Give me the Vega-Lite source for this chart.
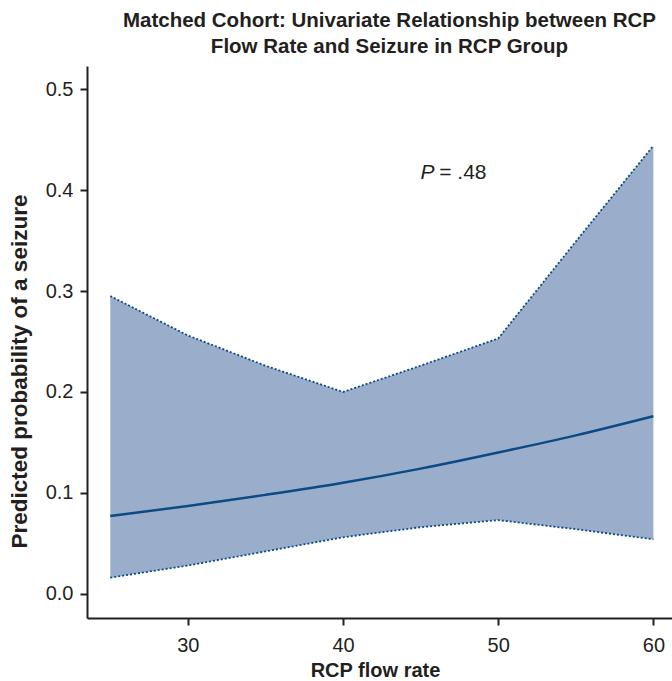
{
  "$schema": "https://vega.github.io/schema/vega-lite/v6.json",
  "autosize": "none",
  "width": 585,
  "height": 552,
  "padding": {"left": 87, "top": 66, "right": 0, "bottom": 63},
  "background": "white",
  "title": {
    "text": ["Matched Cohort: Univariate Relationship between RCP", "Flow Rate and Seizure in RCP Group"],
    "font": "Liberation Sans",
    "fontSize": 20.5,
    "fontWeight": "bold",
    "color": "#231f20",
    "anchor": "middle",
    "dx": 10,
    "offset": 9,
    "lineHeight": 26
  },
  "data": {
    "values": [
      {"x": 25, "fit": 0.077, "lo": 0.016, "hi": 0.295},
      {"x": 30, "fit": 0.087, "lo": 0.028, "hi": 0.256},
      {"x": 35, "fit": 0.098, "lo": 0.042, "hi": 0.226},
      {"x": 40, "fit": 0.110, "lo": 0.056, "hi": 0.200},
      {"x": 45, "fit": 0.124, "lo": 0.066, "hi": 0.226},
      {"x": 50, "fit": 0.140, "lo": 0.073, "hi": 0.253},
      {"x": 55, "fit": 0.157, "lo": 0.064, "hi": 0.349},
      {"x": 60, "fit": 0.176, "lo": 0.054, "hi": 0.444}
    ]
  },
  "config": {
    "view": {"stroke": null},
    "axis": {
      "grid": false,
      "domainColor": "#231f20",
      "domainWidth": 2,
      "tickColor": "#231f20",
      "tickWidth": 2,
      "tickSize": 7,
      "labelFont": "Liberation Sans",
      "labelFontSize": 20,
      "labelColor": "#231f20",
      "titleFont": "Liberation Sans",
      "titleFontSize": 20,
      "titleFontWeight": "bold",
      "titleColor": "#231f20"
    }
  },
  "layer": [
    {
      "mark": {"type": "area", "color": "#9aadcb", "opacity": 1},
      "encoding": {
        "x": {
          "field": "x", "type": "quantitative",
          "scale": {"domain": [23.5, 61.2], "nice": false, "zero": false},
          "axis": {"values": [30, 40, 50, 60], "title": "RCP flow rate", "labelPadding": 10, "titleX": 288, "titleY": 58, "titleAlign": "center", "titleBaseline": "alphabetic"}
        },
        "y": {
          "field": "lo", "type": "quantitative",
          "scale": {"domain": [-0.024, 0.523], "nice": false, "zero": false},
          "axis": {"values": [0, 0.1, 0.2, 0.3, 0.4, 0.5], "format": ".1f", "title": "Predicted probability of a seizure", "labelPadding": 7, "titleFontSize": 22.5, "titleX": -68, "titleY": 305, "titleAlign": "center", "titleBaseline": "middle", "titleAngle": -90}
        },
        "y2": {"field": "hi"}
      }
    },
    {
      "mark": {"type": "line", "color": "#0b4a84", "strokeWidth": 1.8, "strokeDash": [2, 2]},
      "encoding": {
        "x": {"field": "x", "type": "quantitative"},
        "y": {"field": "hi", "type": "quantitative"}
      }
    },
    {
      "mark": {"type": "line", "color": "#0b4a84", "strokeWidth": 1.8, "strokeDash": [2, 2]},
      "encoding": {
        "x": {"field": "x", "type": "quantitative"},
        "y": {"field": "lo", "type": "quantitative"}
      }
    },
    {
      "mark": {"type": "line", "color": "#0b4a84", "strokeWidth": 2.5, "interpolate": "monotone"},
      "encoding": {
        "x": {"field": "x", "type": "quantitative"},
        "y": {"field": "fit", "type": "quantitative"}
      }
    },
    {
      "data": {"values": [{"x": 45.9, "y": 0.417, "t": "P"}]},
      "mark": {"type": "text", "font": "Liberation Sans", "fontSize": 21, "fontStyle": "italic", "align": "right", "baseline": "middle", "color": "#231f20"},
      "encoding": {
        "x": {"field": "x", "type": "quantitative"},
        "y": {"field": "y", "type": "quantitative"},
        "text": {"field": "t"}
      }
    },
    {
      "data": {"values": [{"x": 46.2, "y": 0.417, "t": "= .48"}]},
      "mark": {"type": "text", "font": "Liberation Sans", "fontSize": 21, "align": "left", "baseline": "middle", "color": "#231f20"},
      "encoding": {
        "x": {"field": "x", "type": "quantitative"},
        "y": {"field": "y", "type": "quantitative"},
        "text": {"field": "t"}
      }
    }
  ]
}
